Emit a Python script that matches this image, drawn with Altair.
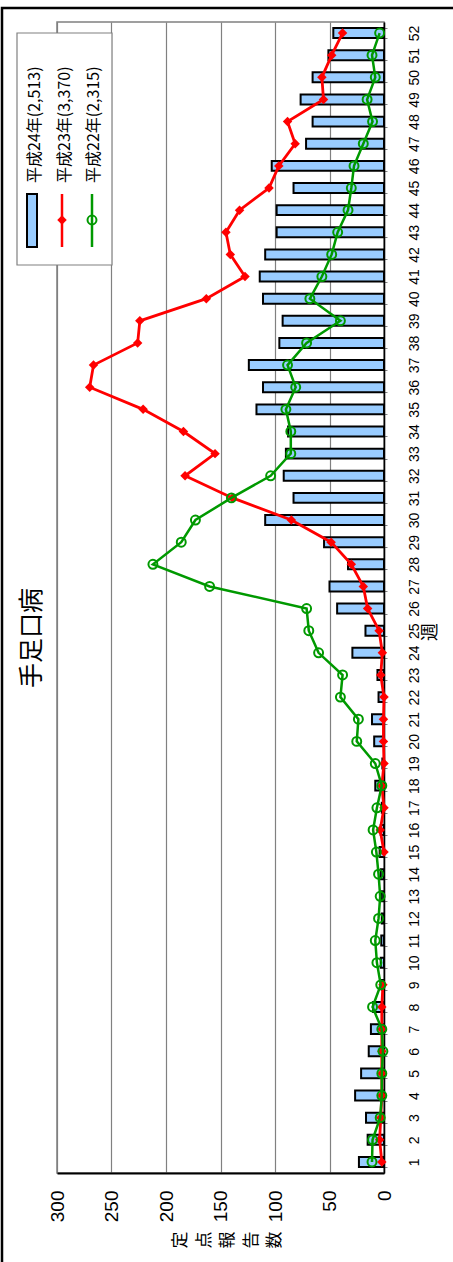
import altair as alt
import pandas as pd

# Weekly sentinel reports of hand, foot and mouth disease (per week, three seasons)
weeks = list(range(1, 53))

h24 = [23, 15, 16.5, 26.5, 21, 14, 12, 10, 2, 3,
       2.5, 2, 2, 3, 4, 3, 2, 8, 1.5, 9,
       11, 5, 6, 29, 17, 43, 50, 33, 55, 109,
       83, 92, 90, 88, 117, 111, 124, 96, 93, 111,
       114, 109, 98.5, 98.5, 83, 103, 71.5, 65.5, 76.5, 65.5,
       51, 46.5]

# weeks 10-14 of this season were not reported
h23 = [2, 4, 3, 2, 2, 2, 2, 2, 1, None,
       None, None, None, None, 0, 3.5, 0, 2, 0, 0.5,
       0.5, 0, 3, 1.5, 4.5, 15, 19, 30, 48.5, 85,
       139, 182.5, 155, 184, 221, 270, 266.5, 226, 224, 163,
       127.5, 141, 145, 132.5, 105.5, 96.5, 81.5, 88.5, 55.5, 57,
       48, 38]

h22 = [11, 10.5, 3.5, 2, 2, 1, 2, 10.5, 3, 6.5,
       8, 5, 3.5, 5, 7, 10, 6.5, 2, 8, 25,
       23.5, 40, 38, 60, 69, 71, 160, 212, 186, 173,
       140, 104, 85.5, 85.5, 90, 81, 88.5, 71, 40, 68,
       57, 48, 42.5, 33, 30, 27.5, 19, 10.5, 15.5, 8,
       11, 4]

series_labels = ["平成24年(2,513)", "平成23年(3,370)", "平成22年(2,315)"]
value_ticks = [0, 50, 100, 150, 200, 250, 300]
chart_title = "手足口病"
value_title = ["定", "点", "報", "告", "数"]
week_title = "週"

BAR_FILL = "#99CCFF"
RED = "#FF0000"
GREEN = "#009900"
GRID = "#808080"
JP = "Noto Sans CJK JP"
NUM = "Liberation Sans"

df = pd.DataFrame({"week": weeks, "h24": h24, "h23": h23, "h22": h22})
df["seg23"] = df["h23"].isna().cumsum()  # split the red line at the gap
red_df = df.dropna(subset=["h23"])

W, H = 327, 1151

xscale = alt.Scale(domain=[0, 300], reverse=True, nice=False)
yscale = alt.Scale(paddingInner=0.55, paddingOuter=0.275)

y_axis = alt.Axis(
    title=None, orient="right", labelAngle=270, labelAlign="center",
    labelBaseline="middle", labelFont=NUM, labelFontSize=14, labelColor="black",
    labelPadding=27, labelOverlap=False, tickBand="extent", tickSize=3,
    tickColor=GRID, domainColor="black", domainWidth=1.5,
)
x_axis = alt.Axis(
    title=None, values=value_ticks, labelAngle=270, labelAlign="right",
    labelBaseline="middle", labelFont=NUM, labelFontSize=19, labelColor="black",
    labelPadding=17, ticks=False, tickSize=0, grid=True, gridColor=GRID,
    gridWidth=1.2, domainColor="black", domainWidth=2, labelFlush=False,
)


def xenc(field):
    return alt.X(f"{field}:Q", scale=xscale, title=None)


yenc = alt.Y("week:O", sort="descending", scale=yscale, title=None)

base = alt.Chart(df)

bars = base.mark_bar(fill=BAR_FILL, stroke="black", strokeWidth=2).encode(
    x=alt.X("h24:Q", scale=xscale, axis=x_axis),
    y=alt.Y("week:O", sort="descending", scale=yscale, axis=y_axis),
)

red_line = alt.Chart(red_df).mark_line(color=RED, strokeWidth=2.8).encode(
    x=xenc("h23"), y=yenc, detail="seg23:N",
)
red_pts = alt.Chart(red_df).mark_point(
    shape="diamond", filled=True, color=RED, size=90, opacity=1
).encode(x=xenc("h23"), y=yenc)

green_line = base.mark_line(color=GREEN, strokeWidth=2.5).encode(
    x=xenc("h22"), y=yenc,
)
green_pts = base.mark_point(
    shape="circle", filled=False, color=GREEN, size=80, strokeWidth=2, opacity=1
).encode(x=xenc("h22"), y=yenc)

one = alt.Data(values=[{}])

# outer frame of the figure
frame = alt.Chart(one).mark_rect(filled=False, stroke="black", strokeWidth=2.5).encode(
    x=alt.value(-55), x2=alt.value(440), y=alt.value(-14), y2=alt.value(1280)
)

title = alt.Chart(one).mark_text(
    text=chart_title, angle=270, font=JP, fontSize=25, color="black",
    align="center", baseline="middle"
).encode(x=alt.value(-25), y=alt.value(616))

vtitle = alt.Chart(one).mark_text(
    text=value_title, angle=270, font=JP, fontSize=17, lineHeight=23.5,
    color="black", align="center", baseline="middle"
).encode(x=alt.value(124), y=alt.value(1218))

wtitle = alt.Chart(one).mark_text(
    text=week_title, angle=270, font=JP, fontSize=18, color="black",
    align="center", baseline="middle"
).encode(x=alt.value(374), y=alt.value(610))

# legend
leg_box = alt.Chart(one).mark_rect(fill="white", stroke=GRID, strokeWidth=1.2).encode(
    x=alt.value(-40), x2=alt.value(55), y=alt.value(11), y2=alt.value(243)
)
leg_bar = alt.Chart(one).mark_rect(fill=BAR_FILL, stroke="black", strokeWidth=2).encode(
    x=alt.value(-30), x2=alt.value(-20), y=alt.value(172), y2=alt.value(225)
)
leg_red = alt.Chart(one).mark_rule(color=RED, strokeWidth=2.5).encode(
    x=alt.value(5), y=alt.value(172), y2=alt.value(225)
)
leg_red_pt = alt.Chart(one).mark_point(
    shape="diamond", filled=True, color=RED, size=90, opacity=1
).encode(x=alt.value(5), y=alt.value(198))
leg_green = alt.Chart(one).mark_rule(color=GREEN, strokeWidth=2.5).encode(
    x=alt.value(35), y=alt.value(172), y2=alt.value(225)
)
leg_green_pt = alt.Chart(one).mark_point(
    shape="circle", filled=False, color=GREEN, size=80, strokeWidth=2, opacity=1
).encode(x=alt.value(35), y=alt.value(198))

leg_text_df = pd.DataFrame({"label": series_labels, "order": [0, 1, 2]})
leg_text = alt.Chart(leg_text_df).mark_text(
    angle=270, font=JP, fontSize=16, color="black", align="left", baseline="middle"
).transform_calculate(
    px="-22 + datum.order * 29.5"
).encode(
    x=alt.X("px:Q", scale=None, axis=None),
    y=alt.value(161),
    text="label:N",
)

chart = alt.layer(
    bars, frame, red_line, red_pts, green_line, green_pts,
    title, vtitle, wtitle,
    leg_box, leg_bar, leg_red, leg_red_pt, leg_green, leg_green_pt, leg_text,
).resolve_scale(x="shared", y="shared").properties(
    width=W, height=H,
    autosize=alt.AutoSizeParams(type="none"),
    padding={"left": 57, "top": 22, "right": 69, "bottom": 89},
    background="white",
).configure_view(stroke=GRID, strokeWidth=1.5)

chart.save("out.html", embed_options={"renderer": "svg", "actions": False})
